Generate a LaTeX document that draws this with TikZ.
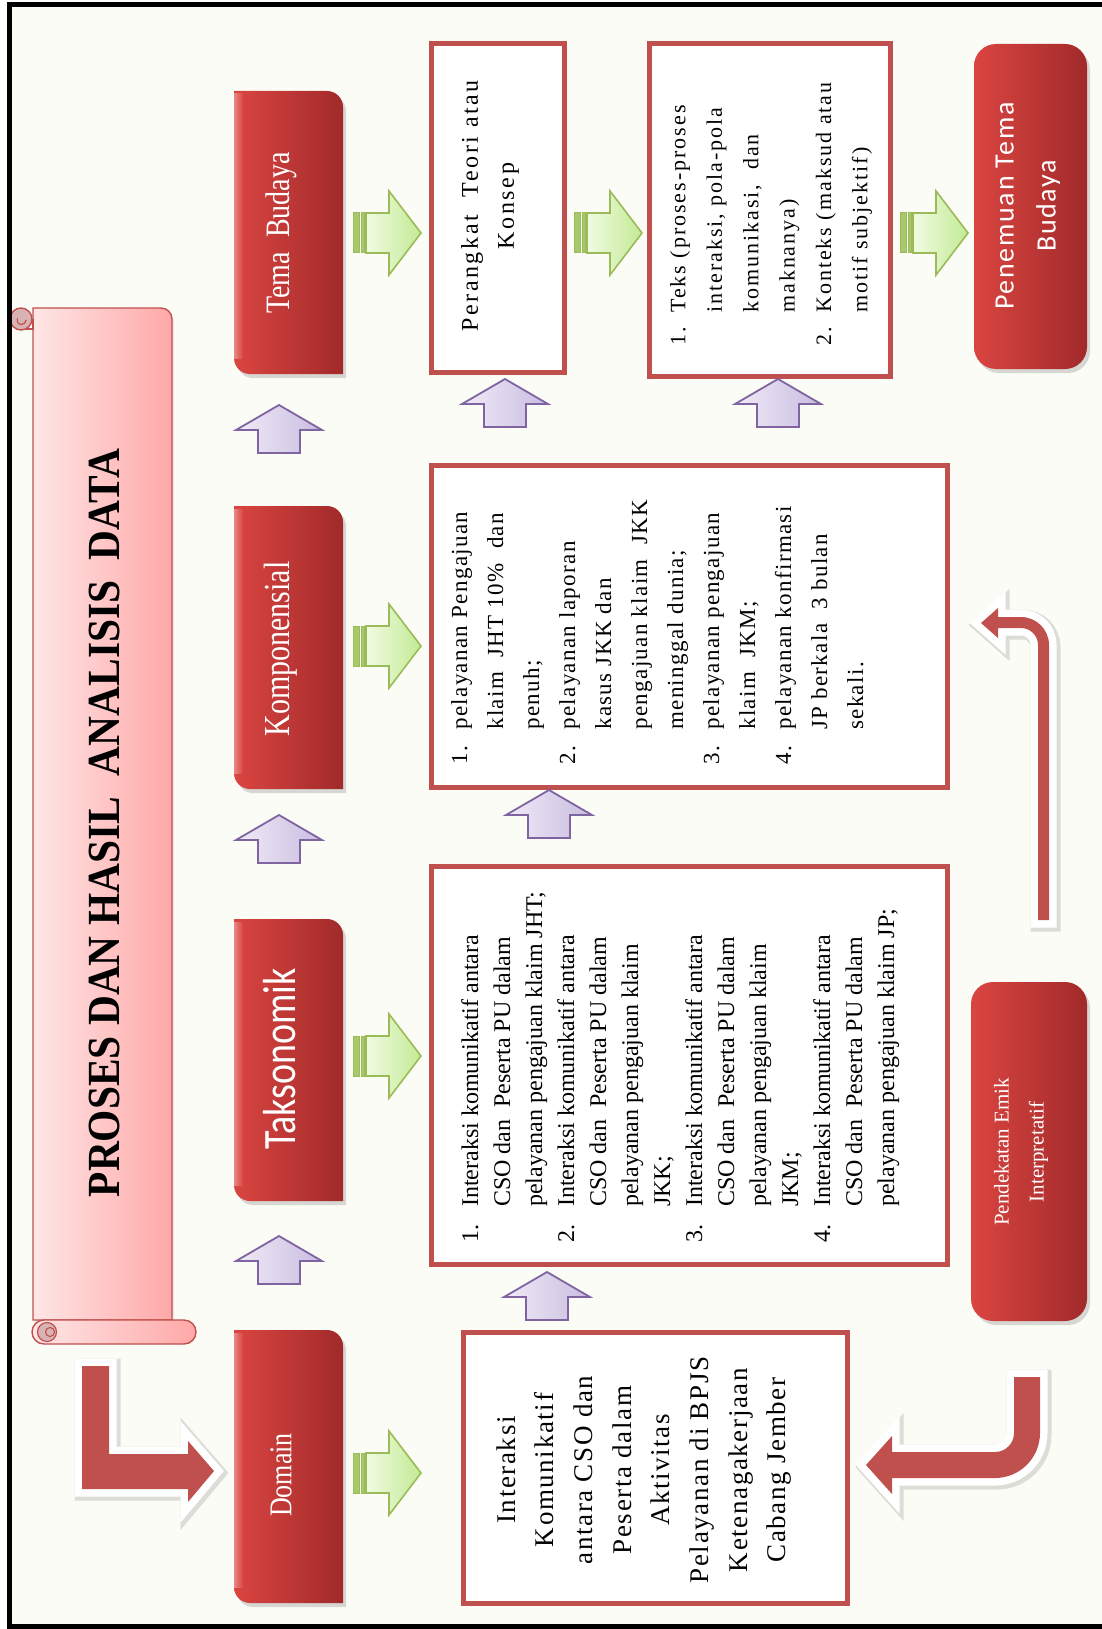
\documentclass[tikz,border=0pt]{standalone}
\usepackage{fontspec}
\setmainfont{Liberation Serif}[BoldFont={Liberation Serif Bold}]
\newfontfamily\calfont{Carlito}
\newfontfamily\calwide[LetterSpace=6]{Carlito}
\newfontfamily\serifsix[LetterSpace=6]{Liberation Serif}
\newfontfamily\serifnine[LetterSpace=9]{Liberation Serif}
\newfontfamily\serifeleven[LetterSpace=11]{Liberation Serif}
\newfontfamily\titlefont{Liberation Serif Bold}
\usetikzlibrary{shadows}

\definecolor{paper}{HTML}{FCFCF7}
\definecolor{boxred}{HTML}{C0504D}
\definecolor{arrowred}{HTML}{C0504D}
\definecolor{redL}{HTML}{DA4541}
\definecolor{redD}{HTML}{A12A2A}
\definecolor{grnL}{HTML}{F0FBE2}
\definecolor{grnR}{HTML}{C3EA94}
\definecolor{grnD}{HTML}{9BBB59}
\definecolor{purL}{HTML}{F0EBF7}
\definecolor{purR}{HTML}{C9BCE0}
\definecolor{purD}{HTML}{8064A2}
\definecolor{pinkL}{HTML}{FFE6E6}
\definecolor{pinkR}{HTML}{FFA8A8}
\definecolor{curl}{HTML}{D9B3B3}

\newcommand\fs[2]{\fontsize{#1}{#2}\selectfont}
\newcommand\tall[1]{\scalebox{1}[1.22]{#1}}
\newlength\itmw
\newcommand\itm[1]{\makebox[\itmw][l]{#1}}
\newcommand\ind{\hspace*{\itmw}}

% red label box: top-right and bottom-left corners rounded, light bevel on the left edge
\newcommand\redtab[4]{%
  \path[redbox] (#1,#2) -- ({#3-16},#2) arc[start angle=-90,end angle=0,radius=16]
    -- (#3,#4) -- ({#1+16},#4) arc[start angle=90,end angle=180,radius=16] -- cycle;
  \path[left color=redL!55!white, right color=redL, opacity=0.8]
    (#1,{#2+3}) rectangle ({#1+9},{#4-16});}
% striped green arrow pointing right: start x, centre y
\newcommand\grnarrow[2]{%
  \path[grnstripe] (#1,{#2-20}) rectangle ({#1+6},{#2+20});
  \path[grnstripe] ({#1+8},{#2-20}) rectangle ({#1+11},{#2+20});
  \path[grnarrow] ({#1+13},{#2-20}) -- ({#1+36},{#2-20}) -- ({#1+36},{#2-42})
    -- ({#1+68},#2) -- ({#1+36},{#2+42}) -- ({#1+36},{#2+20}) -- ({#1+13},{#2+20}) -- cycle;}
% purple arrow pointing up: centre x, tip y
\newcommand\purarrow[2]{%
  \path[purarrow] (#1,#2) -- ({#1+43},{#2+25}) -- ({#1+21},{#2+25}) -- ({#1+21},{#2+48})
    -- ({#1-21},{#2+48}) -- ({#1-21},{#2+25}) -- ({#1-43},{#2+25}) -- cycle;}

\tikzset{
  contentbox/.style={draw=boxred, line width=5pt, fill=white},
  redbox/.style={left color=redL, right color=redD,
    drop shadow={shadow xshift=3pt, shadow yshift=-4pt, opacity=0.3}},
  grnarrow/.style={draw=grnD, line width=1.6pt, left color=grnL, right color=grnR},
  grnstripe/.style={draw=grnD, line width=1pt, fill=grnD!70!grnR},
  purarrow/.style={draw=purD, line width=1.8pt, left color=purL, right color=purR},
  scroll/.style={draw=boxred, line width=1.4pt, left color=pinkL, right color=pinkR},
  bigarrow/.style={fill=arrowred, line join=miter,
    preaction={draw=black, opacity=0.12, line width=19pt, transform canvas={shift={(2pt,-2pt)}}},
    preaction={draw=white, line width=15pt}},
  vlabel/.style={rotate=90, inner sep=0pt},
}

\begin{document}
\begin{tikzpicture}[x=1pt,y=-1pt]
\useasboundingbox (0,0) rectangle (1102,1629);
\fill[white] (0,0) rectangle (1102,1629);
\fill[paper] (9,4) rectangle (1102,1627);

% title scroll
\path[scroll, drop shadow={shadow xshift=2pt, shadow yshift=-3pt, opacity=0.15}]
  (33,1320) -- (33,308) -- (161,308) arc[start angle=-90,end angle=0,radius=11]
  -- (172,1320) -- cycle;
\path[draw=boxred, line width=1.2pt, fill=white] (26,320) rectangle (33,329);
\path[draw=boxred, line width=1.4pt, fill=curl] (21,319) circle[radius=11];
\draw[boxred, line width=1.2pt] (26,320) arc[start angle=0,end angle=200,radius=4.5];
\path[scroll] (44,1320) -- (184,1320) arc[start angle=-90,end angle=90,radius=12]
  -- (44,1344) arc[start angle=90,end angle=270,radius=12] -- cycle;
\path[draw=boxred, line width=1.2pt, fill=curl] (47,1332) circle[radius=9.5];
\draw[boxred, line width=1.1pt] (50,1332) circle[radius=4.5];
\node[vlabel, font=\titlefont\fs{46}{50}] (title) at (104,823)
  {\scalebox{0.9}[1]{PROSES DAN HASIL\ \ ANALISIS\ \ DATA}};

% outer frame
\draw[line width=5pt] (9.5,4.5) rectangle (1120,1626.5);

% stage boxes
\redtab{234}{91}{343}{374}
\redtab{234}{506}{343}{789}
\redtab{234}{919}{343}{1201}
\redtab{234}{1330}{343}{1603}
\node[vlabel, text=white, font=\fs{28}{30}] (lTema) at (281,233) {\tall{Tema\ \ Budaya}};
\node[vlabel, text=white, font=\fs{30}{32}] (lKomp) at (281,649) {\tall{Komponensial}};
\node[vlabel, text=white, font=\calfont\fs{38}{40}] (lTaks) at (280,1059) {\tall{Taksonomik}};
\node[vlabel, text=white, font=\fs{26}{28}] (lDom) at (281,1475) {\tall{Domain}};

% upward arrows between stages
\purarrow{279}{405}
\purarrow{279}{815}
\purarrow{279}{1236}

% arrows from stages to results
\grnarrow{353}{233}
\grnarrow{353}{646}
\grnarrow{353}{1056}
\grnarrow{353}{1473}
\grnarrow{574}{233}
\grnarrow{900}{233}

% result boxes
\draw[contentbox] (431,44) rectangle (564,372);
\draw[contentbox] (649,44) rectangle (890,376);
\draw[contentbox] (431,465) rectangle (947,787);
\draw[contentbox] (431,866) rectangle (947,1264);
\draw[contentbox] (463,1332) rectangle (847,1603);
\path[redbox, rounded corners=22pt] (974,44) rectangle (1087,369);
\path[redbox, rounded corners=22pt] (971,982) rectangle (1087,1321);

\purarrow{505}{379}
\purarrow{778}{379}
\purarrow{549}{790}
\purarrow{547}{1272}

% texts of result boxes
\node[vlabel, align=center, font=\serifeleven\fs{24}{36}] (tTeori) at (490,206)
  {Perangkat\ \ Teori atau\\Konsep};

\setlength\itmw{33pt}
\node[vlabel, anchor=north west, align=left, font=\serifnine\fs{22}{36.4}] (tTeks) at (670,346)
  {\itm{1.}Teks (proses-proses\\ \ind interaksi, pola-pola\\ \ind komunikasi,\ \ dan\\ \ind maknanya)\\
   \itm{2.}Konteks (maksud atau\\ \ind motif subjektif)};

\node[vlabel, align=center, text=white, font=\calwide\fs{28}{42}] (tTemu) at (1028,206)
  {Penemuan Tema\\Budaya};

\setlength\itmw{35pt}
\node[vlabel, anchor=north west, align=left, font=\serifsix\fs{23}{36}] (tKomp) at (451,765)
  {\itm{1.}pelayanan Pengajuan\\ \ind klaim\ \ JHT 10\%\ \ dan\\ \ind penuh;\\
   \itm{2.}pelayanan laporan\\ \ind kasus JKK dan\\ \ind pengajuan klaim\ \ JKK\\ \ind meninggal dunia;\\
   \itm{3.}pelayanan pengajuan\\ \ind klaim\ \ JKM;\\
   \itm{4.}pelayanan konfirmasi\\ \ind JP berkala\ \ 3 bulan\\ \ind sekali.};

\setlength\itmw{36pt}
\node[vlabel, anchor=north west, align=left, font=\fs{24}{32}] (tTaks) at (461,1243)
  {\itm{1.}Interaksi komunikatif antara\\ \ind CSO dan\ \ Peserta PU dalam\\ \ind pelayanan pengajuan klaim JHT;\\
   \itm{2.}Interaksi komunikatif antara\\ \ind CSO dan\ \ Peserta PU dalam\\ \ind pelayanan pengajuan klaim\\ \ind JKK;\\
   \itm{3.}Interaksi komunikatif antara\\ \ind CSO dan\ \ Peserta PU dalam\\ \ind pelayanan pengajuan klaim\\ \ind JKM;\\
   \itm{4.}Interaksi komunikatif antara\\ \ind CSO dan\ \ Peserta PU dalam\\ \ind pelayanan pengajuan klaim JP;};

\node[vlabel, align=center, font=\serifsix\fs{27}{38.7}] (tDom) at (644,1470)
  {Interaksi\\Komunikatif\\antara CSO dan\\Peserta dalam\\Aktivitas\\Pelayanan di BPJS\\Ketenagakerjaan\\Cabang Jember};

\node[vlabel, align=center, text=white, font=\fs{21}{35}] (tEmik) at (1021,1152)
  {Pendekatan Emik\\Interpretatif};

% scroll to domain
\path[bigarrow] (82,1366) -- (109,1366) -- (109,1454) -- (188,1454) -- (188,1441) -- (214,1471)
  -- (188,1502) -- (188,1489) -- (82,1489) -- cycle;
% emic approach back to the domain result
\path[bigarrow] (1014,1377) -- (1040,1377) -- (1040,1433) arc[start angle=0,end angle=90,radius=45]
  -- (892,1478) -- (892,1494) -- (866,1465) -- (892,1436) -- (892,1452) -- (995,1452)
  arc[start angle=90,end angle=0,radius=19] -- cycle;
% emic approach up to the component result
\path[bigarrow] (1038,920) -- (1049,920) -- (1049,645)
  arc[start angle=0,end angle=-90,radius=28] -- (998,617) -- (998,608) -- (981,623)
  -- (998,638) -- (998,628) -- (1021,628) arc[start angle=-90,end angle=0,radius=17] -- cycle;
\end{tikzpicture}
\end{document}
